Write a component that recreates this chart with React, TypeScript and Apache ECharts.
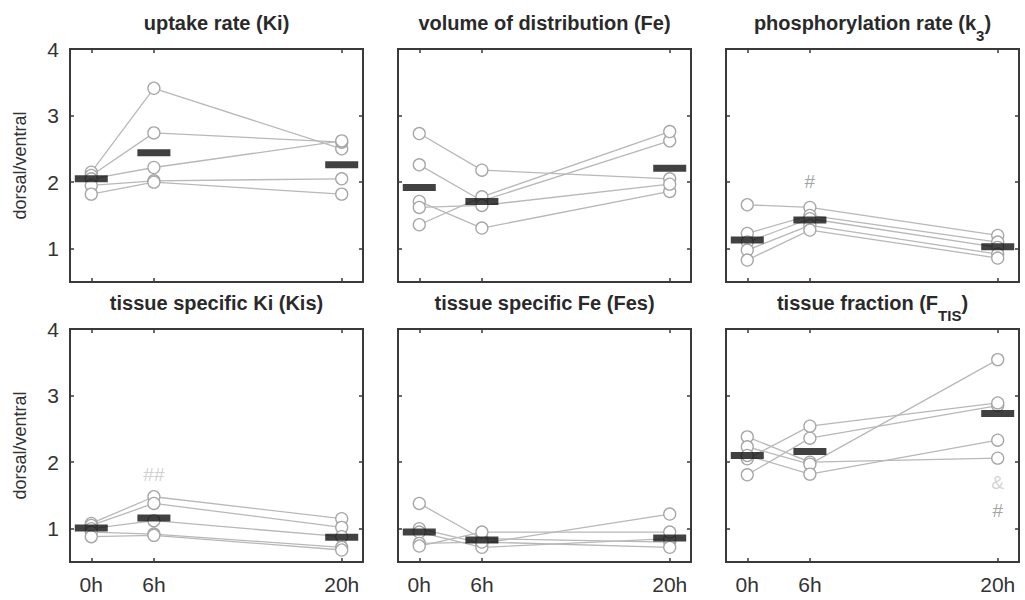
import React, { useEffect, useRef } from 'react';
import * as echarts from 'echarts';

// ---------- data ----------
const TIME_LABELS = ['0h', '6h', '20h'];
const X_POS = [1, 2, 5];
const Y_TICKS = [1, 2, 3, 4];

const TITLES = [
  '{n|uptake rate (Ki)}',
  '{n|volume of distribution (Fe)}',
  '{n|phosphorylation rate (k}{s|3}{n|)}',
  '{n|tissue specific Ki (Kis)}',
  '{n|tissue specific Fe (Fes)}',
  '{n|tissue fraction (F}{s|TIS}{n|)}',
];

// individual subjects: values at 0h, 6h, 20h
const KI_SUBJECTS = [
  [2.15, 3.41, 2.5],
  [2.1, 2.74, 2.6],
  [2.05, 2.22, 2.62],
  [1.95, 2.02, 2.05],
  [1.82, 2.0, 1.82],
];
const KI_MEAN = [2.05, 2.44, 2.26];

const FE_SUBJECTS = [
  [2.73, 2.18, 2.05],
  [2.26, 1.72, 2.62],
  [1.71, 1.31, 1.86],
  [1.36, 1.78, 2.76],
  [1.62, 1.65, 1.97],
];
const FE_MEAN = [1.92, 1.71, 2.21];

const K3_SUBJECTS = [
  [1.66, 1.62, 1.2],
  [1.23, 1.5, 1.1],
  [1.1, 1.45, 1.02],
  [0.98, 1.35, 0.92],
  [0.83, 1.28, 0.86],
];
const K3_MEAN = [1.13, 1.43, 1.03];

const KIS_SUBJECTS = [
  [1.08, 1.48, 1.15],
  [1.05, 1.38, 1.02],
  [1.0, 1.12, 0.88],
  [0.95, 0.92, 0.72],
  [0.88, 0.9, 0.68],
];
const KIS_MEAN = [1.01, 1.16, 0.87];

const FES_SUBJECTS = [
  [1.38, 0.85, 0.8],
  [1.0, 0.78, 1.22],
  [0.95, 0.72, 0.85],
  [0.78, 0.8, 0.72],
  [0.74, 0.95, 0.95],
];
const FES_MEAN = [0.95, 0.83, 0.86];

const FTIS_SUBJECTS = [
  [1.81, 2.36, 2.85],
  [2.38, 2.0, 2.06],
  [2.23, 1.97, 3.54],
  [2.05, 2.54, 2.89],
  [2.1, 1.82, 2.33],
];
const FTIS_MEAN = [2.1, 2.16, 2.73];

const SUBJECTS = [KI_SUBJECTS, FE_SUBJECTS, K3_SUBJECTS, KIS_SUBJECTS, FES_SUBJECTS, FTIS_SUBJECTS];
const MEANS = [KI_MEAN, FE_MEAN, K3_MEAN, KIS_MEAN, FES_MEAN, FTIS_MEAN];

// significance marks
const MARK_PANEL = [2, 3, 5, 5];
const MARK_X = [2, 2, 5, 5];
const MARK_Y = [2.01, 1.81, 1.69, 1.28];
const MARK_TEXT = ['#', '##', '&', '#'];
const MARK_COLOR = ['#8a8a8a', '#c4c4c4', '#c8c8c8', '#8a8a8a'];

// ---------- layout ----------
const FONT = '"Liberation Sans", Arial, Helvetica, sans-serif';
const GRID_LEFT = [70, 398, 726];
const GRID_TOP = [49, 329];
const GRID_W = 293;
const GRID_H = 233;
const X_MIN = 0.66;
const X_MAX = 5.34;
const Y_MIN = 0.5;
const Y_MAX = 4;

function buildOption() {
  const grid: any[] = [];
  const xAxis: any[] = [];
  const yAxis: any[] = [];
  const series: any[] = [];
  const graphic: any[] = [];

  const tickStyle = { color: '#3a3a3a', width: 1.5 };

  for (let i = 0; i < 6; i++) {
    const col = i % 3;
    const row = Math.floor(i / 3);
    grid.push({
      left: GRID_LEFT[col],
      top: GRID_TOP[row],
      width: GRID_W,
      height: GRID_H,
      show: true,
      backgroundColor: '#ffffff',
      borderColor: '#3a3a3a',
      borderWidth: 2,
    });
    const baseX = {
      gridIndex: i,
      type: 'value',
      min: X_MIN,
      max: X_MAX,
      axisLine: { show: false },
      splitLine: { show: false },
      axisTick: { show: true, inside: true, length: 4, customValues: X_POS, lineStyle: tickStyle },
    };
    xAxis.push({
      ...baseX,
      position: 'bottom',
      axisLabel: {
        show: row === 1,
        customValues: X_POS,
        formatter: (v: number) => TIME_LABELS[X_POS.indexOf(v)] ?? '',
        fontSize: 21,
        fontFamily: FONT,
        color: '#333',
        margin: 12,
      },
    });
    xAxis.push({ ...baseX, position: 'top', axisLabel: { show: false } });
    const baseY = {
      gridIndex: i,
      type: 'value',
      min: Y_MIN,
      max: Y_MAX,
      axisLine: { show: false },
      splitLine: { show: false },
      axisTick: { show: true, inside: true, length: 4, customValues: Y_TICKS, lineStyle: tickStyle },
    };
    yAxis.push({
      ...baseY,
      position: 'left',
      axisLabel: {
        show: col === 0,
        customValues: Y_TICKS,
        fontSize: 21,
        fontFamily: FONT,
        color: '#333',
        margin: 11,
      },
    });
    yAxis.push({ ...baseY, position: 'right', axisLabel: { show: false } });

    SUBJECTS[i].forEach((subj, k) => {
      series.push({
        type: 'line',
        name: 'p' + i + 's' + k,
        xAxisIndex: 2 * i,
        yAxisIndex: 2 * i,
        data: X_POS.map((x, t) => [x, subj[t]]),
        symbol: 'circle',
        symbolSize: 12,
        showAllSymbol: true,
        lineStyle: { color: '#b8b8b8', width: 1.3 },
        itemStyle: { color: '#ffffff', borderColor: '#a6a6a6', borderWidth: 1.3 },
        z: 2,
        silent: true,
      });
    });
    series.push({
      type: 'scatter',
      name: 'mean' + i,
      xAxisIndex: 2 * i,
      yAxisIndex: 2 * i,
      data: X_POS.map((x, t) => [x, MEANS[i][t]]),
      symbol: 'rect',
      symbolSize: [33, 7],
      itemStyle: { color: '#111111' },
      z: 5,
      silent: true,
    });

    graphic.push({
      type: 'text',
      x: GRID_LEFT[col] + GRID_W / 2,
      y: GRID_TOP[row] - 36,
      silent: true,
      style: {
        text: TITLES[i],
        align: 'center',
        verticalAlign: 'top',
        fill: '#2a2a2a',
        fontFamily: FONT,
        rich: {
          n: { fontSize: 20, fontWeight: 'bold', lineHeight: 24, verticalAlign: 'top', fontFamily: FONT, fill: '#2a2a2a' },
          s: { fontSize: 15, fontWeight: 'bold', lineHeight: 30, verticalAlign: 'bottom', fontFamily: FONT, fill: '#2a2a2a' },
        },
      },
    });
  }

  // significance marks
  for (let m = 0; m < MARK_TEXT.length; m++) {
    const p = MARK_PANEL[m];
    series.push({
      type: 'scatter',
      name: 'mark' + m,
      xAxisIndex: 2 * p,
      yAxisIndex: 2 * p,
      data: [[MARK_X[m], MARK_Y[m]]],
      symbolSize: 1,
      itemStyle: { color: 'rgba(0,0,0,0)' },
      label: {
        show: true,
        position: 'inside',
        formatter: MARK_TEXT[m],
        fontSize: 19,
        fontFamily: FONT,
        color: MARK_COLOR[m],
      },
      z: 6,
      silent: true,
    });
  }

  // y axis titles
  for (let r = 0; r < 2; r++) {
    graphic.push({
      type: 'text',
      x: 20,
      y: GRID_TOP[r] + GRID_H / 2,
      rotation: Math.PI / 2,
      silent: true,
      style: {
        text: 'dorsal/ventral',
        align: 'center',
        verticalAlign: 'middle',
        fontSize: 18,
        fontFamily: FONT,
        fill: '#333',
      },
    });
  }

  return {
    animation: false,
    backgroundColor: '#ffffff',
    grid,
    xAxis,
    yAxis,
    series,
    graphic,
  };
}

export default function App() {
  const ref = useRef<HTMLDivElement>(null);
  useEffect(() => {
    if (!ref.current) return;
    const chart = echarts.init(ref.current, undefined, { renderer: 'svg' });
    chart.setOption(buildOption() as any);
    return () => chart.dispose();
  }, []);
  return (
    <div
      ref={ref}
      style={{ position: 'fixed', left: 0, top: 0, width: 1025, height: 600, background: '#fff' }}
    />
  );
}
